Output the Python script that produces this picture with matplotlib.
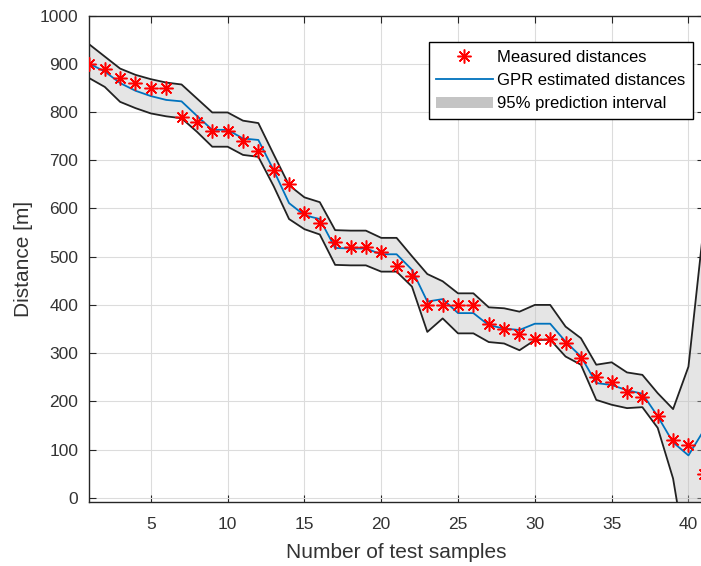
import numpy as np
import matplotlib
matplotlib.use("Agg")
import matplotlib.pyplot as plt
from matplotlib.patches import Patch
from matplotlib.lines import Line2D

plt.rcParams['font.family'] = ['Liberation Sans', 'DejaVu Sans']

# test sample index
samples = np.arange(1, 42)

# measured distances (red asterisks)
measured = [900, 890, 870, 860, 850, 850, 790, 780, 760, 760, 740, 720, 680, 650,
            590, 570, 530, 520, 520, 510, 480, 460, 400, 400, 400, 400, 360, 350,
            340, 330, 330, 320, 290, 250, 240, 220, 210, 170, 120, 110, 50]

# GPR estimate (blue line)
gpr = [900, 884, 860, 844, 833, 825, 822, 792, 763, 763, 745, 742, 679, 611,
       586, 578, 518, 517, 517, 505, 505, 473, 407, 412, 383, 383, 358, 351,
       348, 361, 361, 324, 293, 238, 234, 223, 216, 169, 115, 88, 140]

# 95% prediction interval bounds
upper = [940, 915, 890, 877, 868, 861, 857, 828, 799, 799, 782, 777, 712, 648,
         623, 613, 555, 554, 554, 539, 539, 501, 464, 449, 424, 424, 395, 393,
         386, 400, 400, 355, 331, 276, 281, 260, 255, 217, 184, 272, 565]
lower = [870, 852, 821, 808, 797, 791, 787, 759, 728, 728, 711, 707, 646, 578,
         557, 546, 483, 482, 482, 469, 469, 438, 344, 372, 341, 341, 323, 320,
         306, 327, 328, 293, 276, 203, 193, 186, 188, 145, 40, -150, -400]

xticks = [5, 10, 15, 20, 25, 30, 35, 40]
yticks = list(range(0, 1001, 100))

fig = plt.figure(figsize=(7.01, 5.66), dpi=100)
# right spine sits just past the image edge, like the cropped original
ax = fig.add_axes([0.1275, 0.1136, 0.8765, 0.859])

ax.fill_between(samples, lower, upper, color='#bfbfbf', alpha=0.4, lw=0, zorder=1)
ax.plot(samples, upper, color='#222222', lw=1.3, zorder=2)
ax.plot(samples, lower, color='#222222', lw=1.3, zorder=2)
ax.plot(samples, gpr, color='#0072BD', lw=1.3, zorder=3)
ax.plot(samples, measured, ls='none', marker=(8, 2, 0), ms=10, mew=1.1,
        color='#ff0000', zorder=4)

ax.set_xlim(1, 41)
ax.set_ylim(-8, 1000)
ax.set_xticks(xticks)
ax.set_yticks(yticks)
ax.grid(True, color='#dcdcdc', lw=0.8)
ax.set_axisbelow(True)
ax.tick_params(direction='in', length=5, width=0.8, top=True, right=True,
               labelsize=12.5, colors='#262626', labelcolor='#333333')
ax.tick_params(axis='x', pad=11)
ax.tick_params(axis='y', pad=8)
for s in ax.spines.values():
    s.set_color('#262626')
    s.set_linewidth(1.0)

ax.set_xlabel('Number of test samples', fontsize=15, color='#333333', labelpad=8)
ax.set_ylabel('Distance [m]', fontsize=15, color='#333333', labelpad=5)

handles = [
    Line2D([], [], ls='none', marker=(8, 2, 0), ms=10, mew=1.1, color='#ff0000'),
    Line2D([], [], color='#0072BD', lw=1.3),
    Patch(facecolor='#c4c4c4', edgecolor='none'),
]
labels = ['Measured distances', 'GPR estimated distances', '95% prediction interval']
leg = ax.legend(handles, labels, loc='upper right', bbox_to_anchor=(0.982, 0.945),
                borderaxespad=0, fontsize=12, fancybox=False, framealpha=1,
                edgecolor='black', handlelength=3.4, handletextpad=0.25,
                labelspacing=0.5, borderpad=0.45)
leg.get_frame().set_linewidth(1.0)

fig.savefig('out.png', dpi=100)
